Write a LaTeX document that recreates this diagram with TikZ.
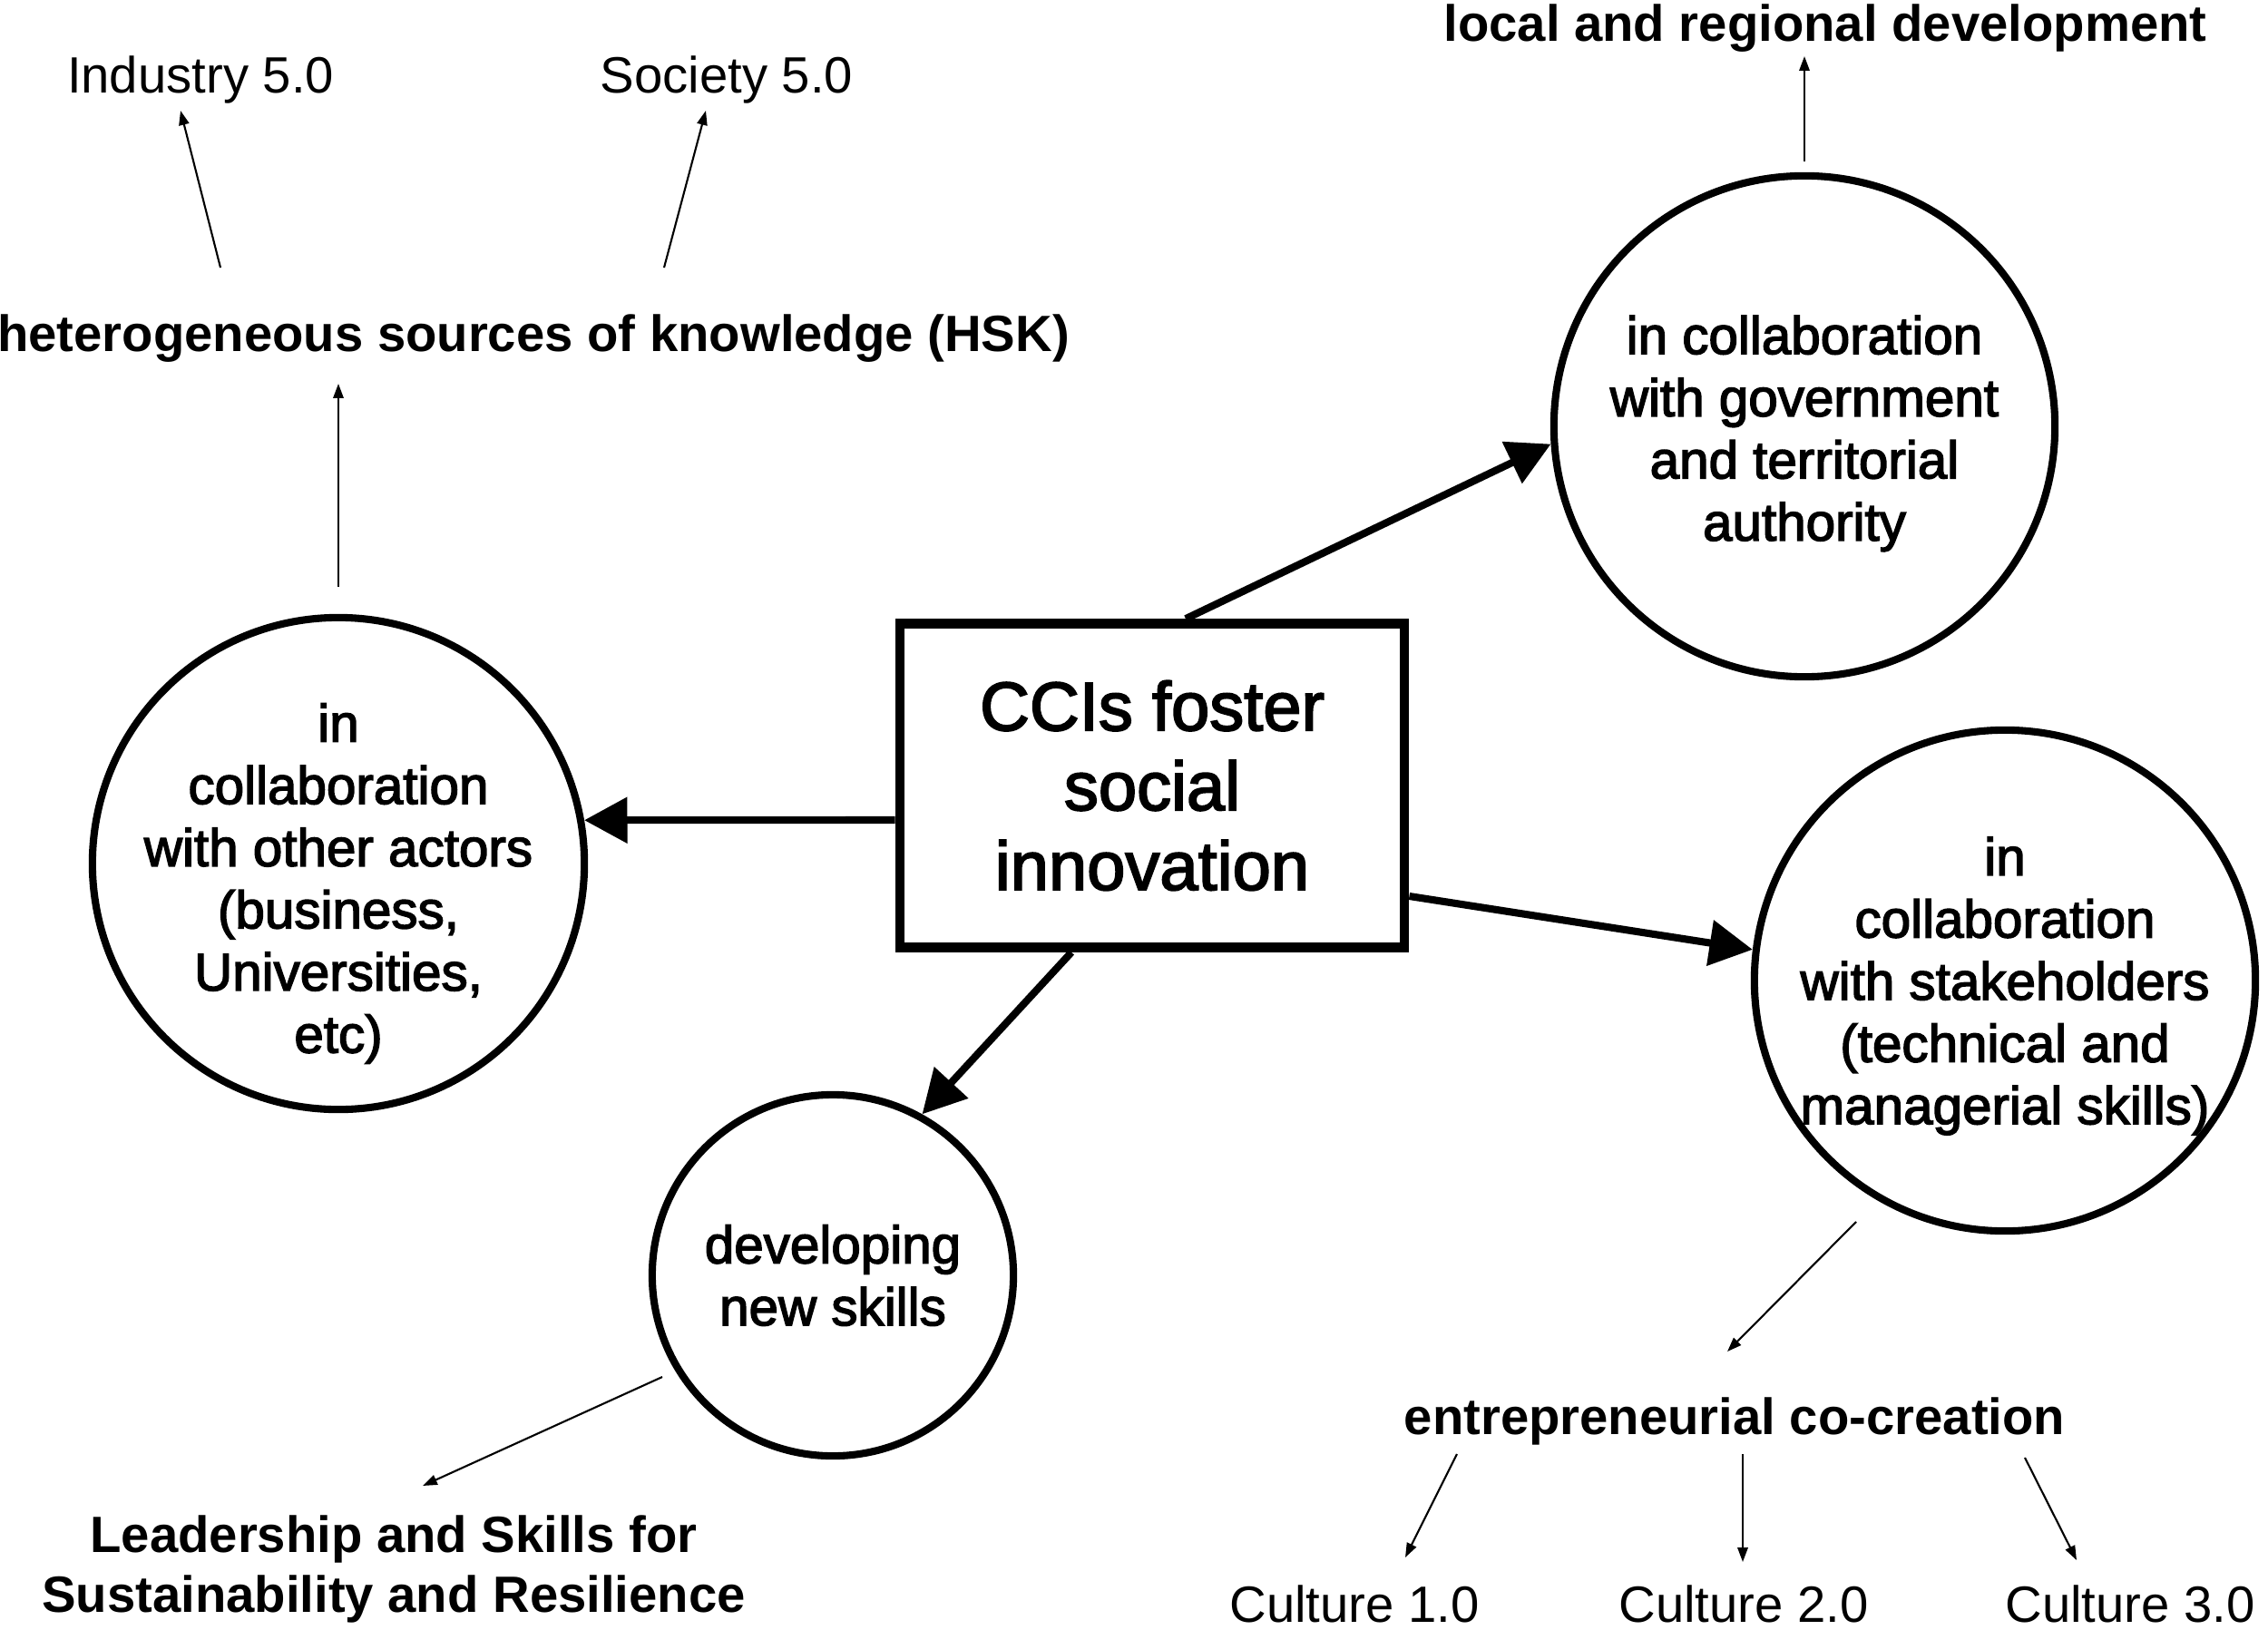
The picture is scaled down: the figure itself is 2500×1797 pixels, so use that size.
\documentclass[tikz,border=0pt]{standalone}
\usepackage{fontspec}
\setmainfont{Liberation Sans}
\newfontfamily\medfont{Liberation Sans}[FakeBold=2.5]
\usetikzlibrary{arrows.meta,calc}
\begin{document}
\begin{tikzpicture}[x=0.01cm,y=-0.01cm,
  circ/.style={circle,draw,line width=2.3pt,inner sep=0pt},
  circtext/.style={inner sep=0pt,align=center,font=\medfont\fontsize{16.6}{19.5}\selectfont},
  boxnode/.style={draw,line width=3pt,inner sep=0pt,align=center,font=\medfont\fontsize{21.6}{25}\selectfont},
  lbl/.style={inner sep=0pt,font=\fontsize{16}{19}\selectfont},
  blbl/.style={inner sep=0pt,align=center,font=\bfseries\fontsize{16}{19}\selectfont},
  big/.style={-{Triangle[length=13.5pt,width=14pt]},line width=2.3pt},
  small/.style={-{Triangle[length=4.5pt,width=3.2pt]},line width=0.6pt}]
\useasboundingbox (0,0) rectangle (2500,1797);

% main box and circles
\node[boxnode,minimum width=5.56cm,minimum height=3.57cm] (box) at (1270,866) {CCIs foster\\social\\innovation};
\node[circ,minimum size=5.42cm] (lc) at (373,952) {};
\node[circtext] (lct) at (373,974) {in\\collaboration\\with other actors\\(business,\\Universities,\\etc)};
\node[circ,minimum size=5.52cm] (trc) at (1989,470) {};
\node[circtext] (trct) at (1989,478) {in collaboration\\with government\\and territorial\\authority};
\node[circ,minimum size=5.52cm] (rc) at (2210,1081) {};
\node[circtext] (rct) at (2210,1087) {in\\collaboration\\with stakeholders\\(technical and\\managerial skills)};
\node[circ,minimum size=3.98cm] (bc) at (918,1406) {};
\node[circtext] (bct) at (918,1406) {developing\\new skills};

% labels
\node[lbl,anchor=base] (ind) at (221,103) {Industry 5.0};
\node[lbl,anchor=base] (soc) at (801,103) {Society 5.0};
\node[blbl,anchor=base] (hsk) at (588,387) {heterogeneous sources of knowledge (HSK)};
\node[blbl,anchor=base] (lrd) at (2012,46) {local and regional development};
\node[blbl] (lead) at (434,1730) {Leadership and Skills for\\Sustainability and Resilience};
\node[blbl,anchor=base] (ent) at (1912,1581) {entrepreneurial co-creation};
\node[lbl,anchor=base] (c1) at (1493,1788) {Culture 1.0};
\node[lbl,anchor=base] (c2) at (1922,1788) {Culture 2.0};
\node[lbl,anchor=base] (c3) at (2348,1788) {Culture 3.0};

% thick arrows
\draw[big] ($(box.north)+(37,0)$) -- (trc.184);
\draw[big] ($(box.east)+(0,122)$) -- (rc.173);
\draw[big] ($(box.west)+(0,38)$) -- (lc.10);
\draw[big] ($(box.south)+(-89,0)$) -- (bc.61);

% thin arrows
\draw[small] ($(hsk.base)+(-345,-92)$) -- ($(ind.base)+(-22,19)$);
\draw[small] ($(hsk.base)+(144,-92)$) -- ($(soc.base)+(-23,19)$);
\draw[small] ($(lc.north)+(0,-30)$) -- ($(hsk.base)+(-215,36)$);
\draw[small] ($(trc.north)+(0,-12)$) -- ($(lrd.base)+(-23,16)$);
\draw[small] ($(bc.center)+(-188,112)$) -- ($(lead.center)+(32,-92)$);
\draw[small] ($(rc.center)+(-164,266)$) -- ($(ent.base)+(-8,-91)$);
\draw[small] ($(ent.base)+(-306,22)$) -- ($(c1.base)+(56,-71)$);
\draw[small] ($(ent.base)+(9,22)$) -- ($(c2.base)+(-1,-66)$);
\draw[small] ($(ent.base)+(320,26)$) -- ($(c3.base)+(-59,-68)$);
\end{tikzpicture}
\end{document}
